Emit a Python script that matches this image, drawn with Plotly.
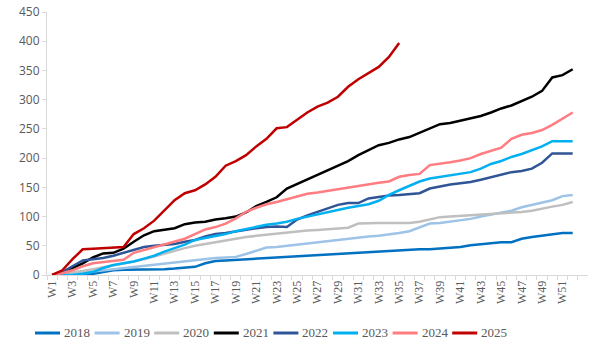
import plotly.graph_objects as go

weeks = [f"W{i}" for i in range(1, 53)]

years = ["2018", "2019", "2020", "2021", "2022", "2023", "2024", "2025"]
colors = ["#0070C0", "#9DC3E6", "#BFBFBF", "#000000", "#2F5597", "#00B0F0", "#FF7C80", "#C00000"]

s2018 = [0, 0, 0, 0, 2, 5, 8, 9, 9, 9, 9, 10, 11, 12, 14, 20, 24, 25, 26, 27,
         28, 30, 31, 32, 33, 34, 35, 36, 37, 38, 39, 40, 40, 41, 42, 43, 44, 44, 45, 46,
         48, 51, 53, 55, 56, 56, 62, 65, 67, 70, 72, 72]
s2019 = [0, 1, 2, 4, 6, 8, 10, 12, 14, 16, 18, 20, 22, 24, 26, 28, 29, 30, 31, 36,
         42, 47, 48, 50, 52, 54, 56, 59, 61, 63, 64, 66, 67, 69, 72, 75, 82, 88, 89, 91,
         93, 96, 100, 103, 106, 110, 116, 120, 123, 128, 135, 137]
s2020 = [0, 2, 5, 7, 10, 13, 17, 20, 23, 27, 32, 37, 42, 46, 50, 53, 57, 60, 63, 65,
         67, 69, 71, 73, 74, 76, 77, 78, 79, 81, 88, 89, 89, 89, 89, 89, 91, 95, 99, 100,
         101, 102, 103, 104, 106, 107, 108, 110, 114, 117, 120, 125]
s2021 = [0, 4, 12, 20, 30, 37, 38, 45, 57, 68, 75, 77, 80, 87, 90, 91, 95, 97, 100, 107,
         118, 125, 133, 148, 156, 163, 172, 180, 188, 195, 205, 214, 222, 226, 232, 236, 243, 250, 258, 260,
         264, 268, 272, 278, 285, 290, 297, 305, 315, 338, 342, 352]
s2022 = [0, 5, 15, 25, 27, 29, 33, 38, 43, 48, 50, 51, 53, 57, 60, 66, 70, 72, 75, 77,
         80, 82, 83, 82, 95, 102, 108, 115, 120, 123, 123, 131, 134, 136, 137, 138, 140, 148, 152, 155,
         157, 159, 163, 167, 172, 176, 178, 182, 192, 208, 208, 208]
s2023 = [0, 0, 0, 2, 5, 12, 17, 20, 23, 28, 33, 40, 46, 52, 60, 63, 67, 70, 75, 79,
         83, 86, 88, 91, 96, 100, 104, 108, 112, 115, 118, 121, 127, 137, 145, 152, 160, 165, 168, 170,
         173, 176, 182, 190, 195, 202, 207, 213, 220, 229, 229, 229]
s2024 = [0, 3, 8, 15, 20, 22, 23, 26, 38, 43, 48, 53, 58, 62, 70, 78, 82, 88, 97, 108,
         115, 121, 125, 130, 135, 139, 141, 144, 147, 149, 153, 156, 158, 160, 168, 171, 173, 188, 190, 193,
         196, 200, 207, 213, 218, 233, 240, 243, 248, 257, 267, 278]
s2025 = [0, 8, 27, 44, 45, 46, 47, 48, 70, 80, 93, 110, 128, 140, 145, 155, 168, 187, 195, 205,
         220, 233, 251, 253, 265, 278, 288, 295, 305, 322, 335, 345, 356, 373, 397]

series = [s2018, s2019, s2020, s2021, s2022, s2023, s2024, s2025]

y_ticks = [0, 50, 100, 150, 200, 250, 300, 350, 400, 450]
x_ticktext = [w if i % 2 == 0 else "" for i, w in enumerate(weeks)]

W, H = 591, 348
ML, MR, MT, MB = 47, 3, 12, 73
PW, PH = W - ML - MR, H - MT - MB

fig = go.Figure()
for name, col, vals in zip(years, colors, series):
    fig.add_trace(go.Scatter(
        x=weeks[:len(vals)], y=vals, name=name, mode="lines",
        line=dict(color=col, width=2.5, shape="linear"),
    ))

# legend drawn below the plot: short line sample + label per series
leg_y = -(333 - (H - MB)) / PH
for i, (name, col) in enumerate(zip(years, colors)):
    x0 = 35 + i * 59.6
    fig.add_shape(type="line", xref="paper", yref="paper",
                  x0=(x0 - ML) / PW, x1=(x0 + 25 - ML) / PW, y0=leg_y, y1=leg_y,
                  line=dict(color=col, width=3))
    fig.add_annotation(xref="paper", yref="paper", x=(x0 + 27 - ML) / PW, y=leg_y,
                       text=name, showarrow=False, xanchor="left", yanchor="middle",
                       font=dict(family="Liberation Serif", size=13, color="#595959"))

fig.update_layout(
    width=W, height=H,
    margin=dict(l=ML, r=MR, t=MT, b=MB),
    paper_bgcolor="white", plot_bgcolor="white",
    showlegend=False,
    xaxis=dict(
        type="category", categoryorder="array", categoryarray=weeks,
        range=[-0.5, 52.5],
        tickmode="array", tickvals=weeks, ticktext=x_ticktext,
        tickangle=-90, tickson="boundaries",
        ticks="outside", ticklen=4, tickcolor="#D9D9D9",
        showline=True, linecolor="#D9D9D9", linewidth=1,
        showgrid=False, zeroline=False,
        tickfont=dict(family="Liberation Serif", size=12, color="#595959"),
    ),
    yaxis=dict(
        range=[0, 450], tickmode="array", tickvals=y_ticks,
        ticks="outside", ticklen=4, tickcolor="#D9D9D9",
        showline=True, linecolor="#D9D9D9", linewidth=1,
        showgrid=False, zeroline=False,
        tickfont=dict(family="Open Sans", size=12, color="#595959"),
    ),
)

fig.write_html("out.html")
